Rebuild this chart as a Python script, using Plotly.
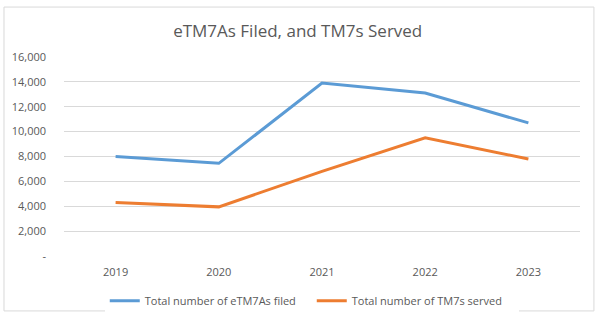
import plotly.graph_objects as go

years = ["2019", "2020", "2021", "2022", "2023"]
etm7a_filed = [8000, 7450, 13900, 13100, 10700]
tm7_served = [4300, 3950, 6800, 9500, 7800]

y_ticks = [0, 2000, 4000, 6000, 8000, 10000, 12000, 14000, 16000]
y_tick_text = ["-", "2,000", "4,000", "6,000", "8,000", "10,000", "12,000", "14,000", "16,000"]

font_family = "Open Sans, Noto Sans, sans-serif"
grey = "#595959"

fig = go.Figure()
fig.add_trace(go.Scatter(
    x=years, y=etm7a_filed, mode="lines",
    name="Total number of eTM7As filed",
    line=dict(color="#5B9BD5", width=3),
))
fig.add_trace(go.Scatter(
    x=years, y=tm7_served, mode="lines",
    name="Total number of TM7s served",
    line=dict(color="#ED7D31", width=3),
))

fig.update_layout(
    width=599, height=327,
    margin=dict(l=64, r=19, t=57, b=67),
    paper_bgcolor="white", plot_bgcolor="white",
    font=dict(family=font_family, color=grey, size=11),
    title=dict(
        text="eTM7As Filed, and TM7s Served",
        x=0.497, xanchor="center", y=0.905, yanchor="middle",
        font=dict(size=17, color=grey),
    ),
    showlegend=True,
    legend=dict(
        orientation="h", x=0.079, xanchor="left", y=-0.225, yanchor="middle",
        font=dict(size=11, color=grey), itemwidth=30, tracegroupgap=0,
        entrywidth=162, entrywidthmode="pixels",
    ),
    xaxis=dict(
        type="category", range=[-0.5, 4.5], showgrid=False,
        showline=False, zeroline=False, ticks="",
        ticklabelstandoff=8,
        tickfont=dict(size=11, color=grey),
    ),
    yaxis=dict(
        range=[0, 16000], tickvals=y_ticks, ticktext=y_tick_text,
        showgrid=True, gridcolor="#D9D9D9", gridwidth=1,
        zeroline=False, showline=False, ticks="",
        ticklabelstandoff=17,
        tickfont=dict(size=11, color=grey),
    ),
    shapes=[dict(
        type="rect", xref="paper", yref="paper",
        x0=-0.1163, x1=1.027, y0=-0.276, y1=1.251,
        line=dict(color="#D9D9D9", width=1), fillcolor="rgba(0,0,0,0)",
        layer="below",
    )],
)

fig.write_html("out.html")
